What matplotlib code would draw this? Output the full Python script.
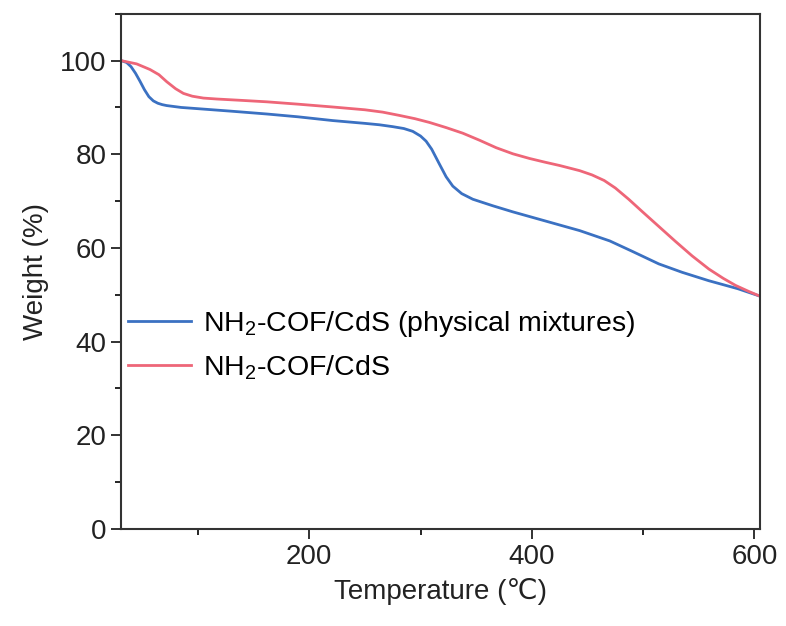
import numpy as np
import matplotlib
matplotlib.use("Agg")
import matplotlib.pyplot as plt
from matplotlib.ticker import MultipleLocator

plt.rcParams['font.family'] = ['Liberation Sans', 'DejaVu Sans']
plt.rcParams['mathtext.fontset'] = 'custom'
plt.rcParams['mathtext.rm'] = 'Liberation Sans'
plt.rcParams['mathtext.it'] = 'Liberation Sans:italic'

# blue: physical mixture
temp_mix = [31, 36, 40, 44, 48, 52, 56, 60, 64, 68, 72, 85, 102, 130, 162, 190, 221, 250,
            263, 275, 285, 293, 300, 305, 310, 317, 323, 329, 337, 347, 365, 383, 410,
            443, 470, 490, 514, 535, 559, 585, 605]
wt_mix = [100, 99.6, 98.7, 97.3, 95.6, 93.8, 92.3, 91.4, 90.9, 90.6, 90.4, 90.0, 89.7,
          89.2, 88.6, 88.0, 87.2, 86.6, 86.3, 85.9, 85.5, 84.9, 83.9, 82.8, 81.1, 77.9,
          75.2, 73.2, 71.6, 70.4, 69.0, 67.7, 65.9, 63.7, 61.5, 59.3, 56.6, 54.8, 53.0,
          51.3, 49.7]

# red: NH2-COF/CdS
temp_cds = [31, 45, 57, 65, 72, 80, 87, 95, 105, 117, 140, 162, 190, 221, 250, 266, 281,
            295, 308, 323, 338, 353, 368, 383, 398, 412, 425, 443, 454, 465, 475, 487,
            499, 514, 529, 544, 559, 572, 583, 595, 605]
wt_cds = [100, 99.3, 98.1, 97.0, 95.5, 94.0, 93.0, 92.4, 92.0, 91.8, 91.5, 91.2, 90.7,
          90.1, 89.5, 89.0, 88.3, 87.6, 86.8, 85.7, 84.5, 83.0, 81.4, 80.1, 79.1, 78.3,
          77.6, 76.5, 75.6, 74.4, 72.8, 70.4, 67.8, 64.6, 61.4, 58.3, 55.5, 53.5, 52.0,
          50.7, 49.7]

fig = plt.figure(figsize=(7.86, 6.26), dpi=100)
ax = fig.add_axes([0.154, 0.155, 0.813, 0.823])

ax.plot(temp_mix, wt_mix, color='#3b71c2', lw=2, label='NH$_2$-COF/CdS (physical mixtures)')
ax.plot(temp_cds, wt_cds, color='#ee6678', lw=2, label='NH$_2$-COF/CdS')

ax.set_xlim(31, 605)
ax.set_ylim(0, 110)
ax.xaxis.set_major_locator(MultipleLocator(200))
ax.xaxis.set_minor_locator(MultipleLocator(100))
ax.yaxis.set_major_locator(MultipleLocator(20))
ax.yaxis.set_minor_locator(MultipleLocator(10))
ax.tick_params(which='major', direction='out', length=7, width=1.3, labelsize=20, colors='#222222')
ax.tick_params(which='minor', direction='out', length=4, width=1.2)
for s in ax.spines.values():
    s.set_linewidth(1.5)
    s.set_color('#333333')

ax.set_xlabel('Temperature (℃)', fontsize=20, color='#222222', labelpad=6)
ax.set_ylabel('Weight (%)', fontsize=20, color='#222222', labelpad=8)

ax.legend(loc='upper left', bbox_to_anchor=(-0.029, 0.476), frameon=False, fontsize=20.5,
          handlelength=2.2, handletextpad=0.43, labelspacing=0.48)

fig.savefig('out.png', dpi=100)
